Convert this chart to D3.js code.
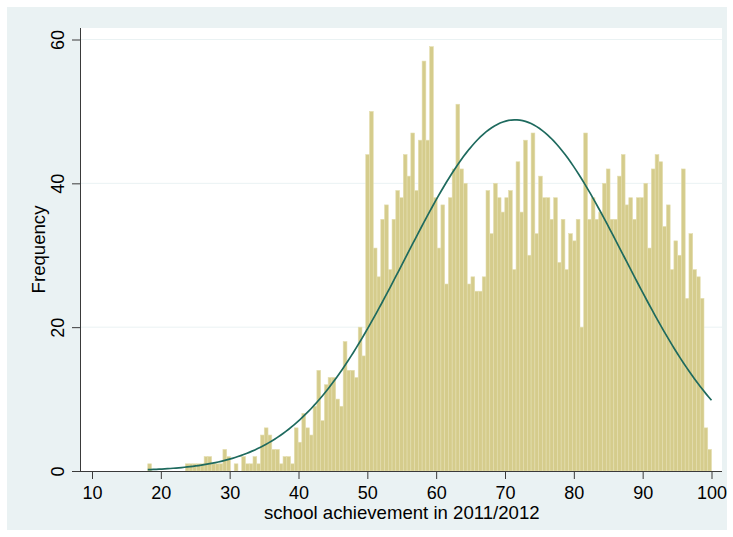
<!DOCTYPE html>
<html>
<head>
<meta charset="utf-8">
<script src="https://cdn.jsdelivr.net/npm/d3@7"></script>
<style>
    body { margin: 0; background: #ffffff; }
    #histogram text { font-family: "Liberation Sans", Arial, sans-serif; fill: #000; }
</style>
</head>
<body>
<div id="histogram"></div>
<script>
// bins: first edge and width (in score units), frequencies per bin
var binStart = 18.1;
var binWidth = 0.546;
var counts = [
    1, 0, 0, 0, 0, 0, 0, 0, 0, 0,
    1, 1, 1, 1, 1, 2, 2, 1, 1, 1,
    3, 2, 0, 1, 0, 2, 1, 1, 2, 1,
    5, 6, 5, 3, 3, 1, 2, 2, 1, 6,
    4, 8, 6, 5, 9, 14, 7, 12, 13, 13,
    10, 9, 18, 14, 14, 13, 20, 16,
    44, 50, 31, 27, 35, 37, 28, 35, 39, 38, 44, 41, 47, 39, 46, 57, 46, 59, 38,
    31, 37, 26, 38, 42, 51, 42, 40, 26, 27, 25, 25, 27, 39, 33, 40, 38, 36, 38,
    39, 28, 43, 36, 46, 30, 47, 33, 41, 38, 38, 35, 38, 29, 35, 28, 33, 32, 35,
    20, 47, 35, 38, 35, 36, 40, 42, 35, 35, 41, 44, 37, 38, 35, 38, 38, 40, 31,
    42, 44, 43, 34, 37, 28, 32, 30, 42, 24, 33, 28, 27, 24, 6, 3
];
var xTicks = [10, 20, 30, 40, 50, 60, 70, 80, 90, 100];
var yTicks = [0, 20, 40, 60];
var xTitle = "school achievement in 2011/2012";
var yTitle = "Frequency";

function Histogram(counts) {
    var self = this;
    self.counts = counts;
    self.init();
};

Histogram.prototype.init = function () {
    var self = this;
    self.width = 733;
    self.height = 537;
    self.plot = { left: 80, right: 722, top: 28, bottom: 471 };

    self.svg = d3.select("#histogram").append("svg")
        .attr("width", self.width)
        .attr("height", self.height);

    // outer graph region
    self.svg.append("rect")
        .attr("x", 7).attr("y", 7)
        .attr("width", 720).attr("height", 523)
        .attr("fill", "#eaf2f3");

    self.svg.append("rect")
        .attr("x", self.plot.left).attr("y", self.plot.top)
        .attr("width", self.plot.right - self.plot.left)
        .attr("height", self.plot.bottom - self.plot.top)
        .attr("fill", "#ffffff");

    self.x = d3.scaleLinear().domain([10, 100]).range([92, 711.5]);
    self.y = d3.scaleLinear().domain([0, 60]).range([471, 39.5]);
};

Histogram.prototype.update = function () {
    var self = this;
    var x = self.x, y = self.y;

    var bins = self.counts.map(function (c, i) {
        return { x0: binStart + i * binWidth, x1: binStart + (i + 1) * binWidth, n: c };
    });

    // grid lines
    self.svg.append("g").selectAll("line")
        .data(yTicks.filter(function (d) { return d > 0; }))
        .enter().append("line")
        .attr("x1", self.plot.left + 1).attr("x2", self.plot.right)
        .attr("y1", function (d) { return y(d); })
        .attr("y2", function (d) { return y(d); })
        .attr("stroke", "#eaf2f3")
        .attr("stroke-width", 1);

    self.svg.append("g").selectAll("rect")
        .data(bins.filter(function (d) { return d.n > 0; }))
        .enter().append("rect")
        .attr("x", function (d) { return x(d.x0); })
        .attr("y", function (d) { return y(d.n); })
        .attr("width", function (d) { return x(d.x1) - x(d.x0); })
        .attr("height", function (d) { return y(0) - y(d.n); })
        .attr("fill", "#d5cc8c")
        .attr("stroke", "#e4deb0")
        .attr("stroke-width", 0.6);

    // normal density scaled to frequency, from the binned data
    var total = d3.sum(bins, function (d) { return d.n; });
    var mean = d3.sum(bins, function (d) { return d.n * (d.x0 + d.x1) / 2; }) / total;
    var sd = Math.sqrt(d3.sum(bins, function (d) {
        var m = (d.x0 + d.x1) / 2 - mean;
        return d.n * m * m;
    }) / (total - 1));
    var lo = binStart, hi = binStart + self.counts.length * binWidth;
    var pts = d3.range(0, 201).map(function (i) {
        var v = lo + (hi - lo) * i / 200;
        var z = (v - mean) / sd;
        return [v, total * binWidth * Math.exp(-z * z / 2) / (sd * Math.sqrt(2 * Math.PI))];
    });

    self.svg.append("path")
        .datum(pts)
        .attr("fill", "none")
        .attr("stroke", "#1e6a5e")
        .attr("stroke-width", 1.7)
        .attr("d", d3.line()
            .x(function (d) { return x(d[0]); })
            .y(function (d) { return y(d[1]); }));

    // axes
    var xAxis = d3.axisBottom(x).tickValues(xTicks).tickSize(8).tickSizeOuter(0).tickPadding(4);
    var gx = self.svg.append("g")
        .attr("transform", "translate(0," + self.plot.bottom + ")")
        .call(xAxis);
    gx.select(".domain").attr("d", "M" + self.plot.left + ",0.5H" + self.plot.right);
    gx.selectAll("line").attr("stroke", "#3a3a3a");
    gx.select(".domain").attr("stroke", "#3a3a3a");
    gx.selectAll("text").style("font-size", "18px").attr("dy", "0.9em");

    var yAxis = d3.axisLeft(y).tickValues(yTicks).tickSize(8).tickSizeOuter(0);
    var gy = self.svg.append("g")
        .attr("transform", "translate(" + self.plot.left + ",0)")
        .call(yAxis);
    gy.select(".domain").attr("d", "M0.5," + self.plot.top + "V" + (self.plot.bottom + 0.5));
    gy.selectAll("line").attr("stroke", "#3a3a3a");
    gy.select(".domain").attr("stroke", "#3a3a3a");
    gy.selectAll("text")
        .style("font-size", "18px")
        .attr("x", 0).attr("dy", 0)
        .attr("text-anchor", "middle")
        .attr("transform", "translate(-16,0) rotate(-90)");

    self.svg.append("text")
        .attr("x", (x(10) + x(100)) / 2)
        .attr("y", 519)
        .attr("text-anchor", "middle")
        .style("font-size", "18.6px")
        .text(xTitle);

    self.svg.append("text")
        .attr("transform", "translate(45," + ((self.plot.top + self.plot.bottom) / 2) + ") rotate(-90)")
        .attr("text-anchor", "middle")
        .style("font-size", "18.6px")
        .text(yTitle);
};

var chart = new Histogram(counts);
chart.update();
</script>
</body>
</html>
